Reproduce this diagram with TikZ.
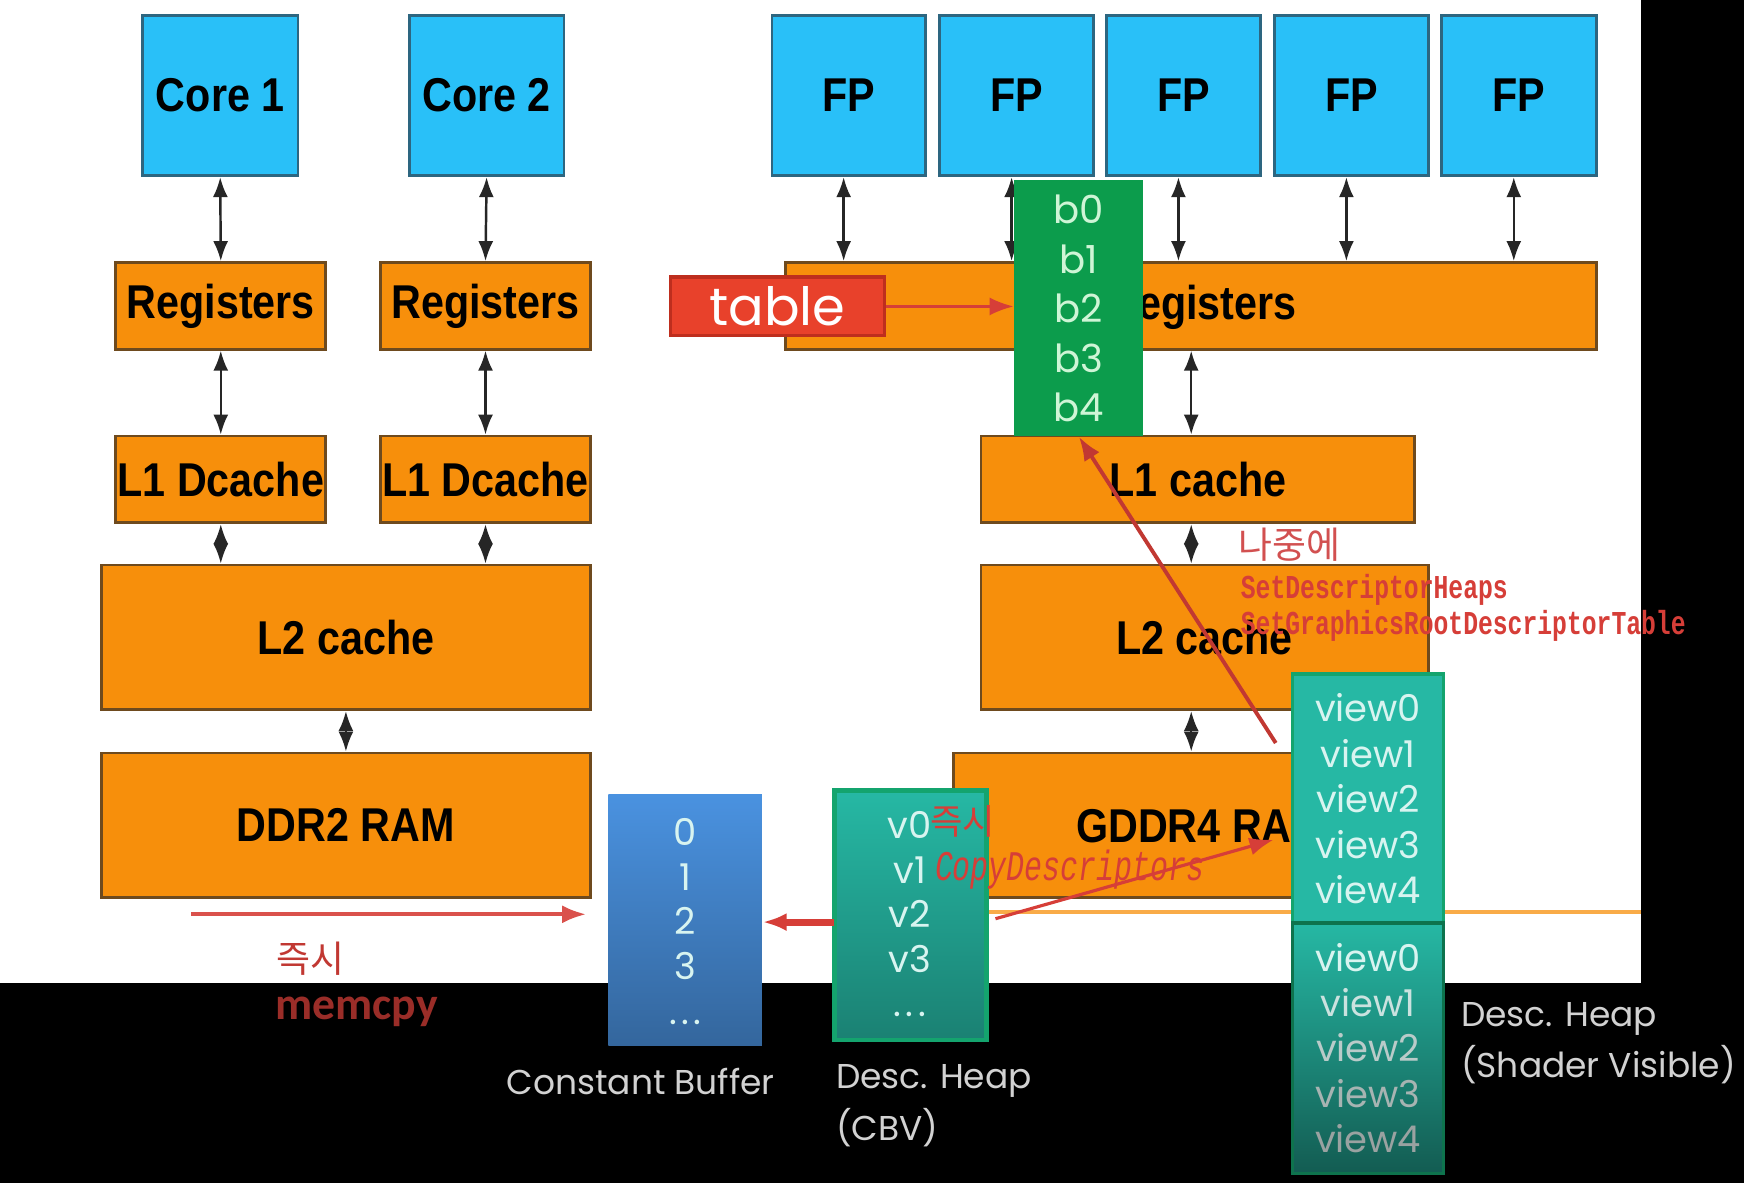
\documentclass[tikz,border=0pt]{standalone}
\usepackage{graphicx}
\usepackage{fontspec}
\setmainfont{Liberation Sans}
\newfontfamily\gothic{Poppins}
\newfontfamily\kr{Noto Sans CJK KR}
\newfontfamily\monof{Liberation Mono}
\newfontfamily\carl{Carlito}
\usetikzlibrary{arrows.meta,fit}
\definecolor{cblue}{HTML}{29C0F8}
\definecolor{cbluebd}{HTML}{2D6680}
\definecolor{corange}{HTML}{F78F0B}
\definecolor{corangebd}{HTML}{6E4A1E}
\definecolor{bgreen}{HTML}{0C9C4C}
\definecolor{bgtext}{HTML}{CFF5D6}
\definecolor{cteal}{HTML}{26B8A4}
\definecolor{tealbd}{HTML}{14A46E}
\definecolor{cbuf}{HTML}{4A92E0}
\definecolor{redt}{HTML}{D63E38}
\definecolor{redk}{HTML}{D25050}
\definecolor{redbox}{HTML}{E8412B}
\definecolor{redboxbd}{HTML}{BE2E1E}
\definecolor{lgray}{HTML}{D2D2D2}
\definecolor{ltext}{HTML}{D8F4F0}
\newcommand{\bl}[1]{\scalebox{0.87}[1]{\fontsize{13.5}{14}\selectfont\bfseries #1}}
\newcommand{\mlab}[2]{\scalebox{#1}[1]{#2}}
\newcommand{\tdots}{.\hspace{0.12em}.\hspace{0.12em}.}
\tikzset{
  hw/.style={draw=corangebd, fill=corange, line width=0.8pt, inner sep=0pt},
  cpu/.style={draw=cbluebd, fill=cblue, line width=0.8pt, inner sep=0pt},
  mid/.style={label={[inner sep=0pt]center:\bl{#1}}},
  darr/.style={{Latex[length=2mm,width=1.5mm]}-{Latex[length=2mm,width=1.5mm]}, line width=0.7pt, draw=black!85},
  rarr/.style={-{Latex[length=2.4mm,width=1.8mm]}, draw=redt, line width=1pt},
  cell/.style={inner sep=0pt, anchor=base, font=\gothic\fontsize{10.5}{11}\selectfont},
  caption/.style={inner sep=0pt, text=lgray, font=\gothic\fontsize{9.8}{11}\selectfont},
  redmono/.style={inner sep=0pt, anchor=west, text=redt},
}
\begin{document}
\begin{tikzpicture}[x=0.11122mm, y=-0.11122mm]
\useasboundingbox (0,0) rectangle (1568,1064);
% background
\fill[white] (0,0) rectangle (1568,1064);
\fill[black] (1475,0) rectangle (1568,1064);
\fill[black] (0,884) rectangle (1568,1064);
\draw[corange!75, line width=1.3pt] (887,820) -- (1475,820);

% CPU side
\node[cpu, fit={(128,14) (268,158)}, mid={Core 1}] (c1) {};
\node[cpu, fit={(368,14) (507,158)}, mid={Core 2}] (c2) {};
\node[hw, fit={(104,236) (293,314)}, mid={Registers}] (r1) {};
\node[hw, fit={(342,236) (531,314)}, mid={Registers}] (r2) {};
\node[hw, fit={(104,392) (293,470)}, mid={L1 Dcache}] (d1) {};
\node[hw, fit={(342,392) (531,470)}, mid={L1 Dcache}] (d2) {};
\node[hw, fit={(91,508) (531,638)}, mid={L2 cache}] (l2l) {};
\node[hw, fit={(91,677) (531,807)}, mid={DDR2 RAM}] (ddr) {};
\draw[darr] (c1.south) -- (r1.north);
\draw[darr] (c2.south) -- (r2.north);
\draw[darr] (r1.south) -- (d1.north);
\draw[darr] (r2.south) -- (d2.north);
\draw[darr] (d1.south) -- (d1.south |- l2l.north);
\draw[darr] (d2.south) -- (d2.south |- l2l.north);
\draw[darr] (l2l.south) -- (ddr.north);

% GPU side
\node[cpu, fit={(694,14) (832,158)}, mid={FP}] (fp1) {};
\node[cpu, fit={(845,14) (983,158)}, mid={FP}] (fp2) {};
\node[cpu, fit={(995,14) (1133,158)}, mid={FP}] (fp3) {};
\node[cpu, fit={(1146,14) (1284,158)}, mid={FP}] (fp4) {};
\node[cpu, fit={(1296,14) (1435,158)}, mid={FP}] (fp5) {};
\node[hw, fit={(706,236) (1435,314)}] (rr) {};
\node[inner sep=0pt] (rrt) at (1081,276) {\bl{Registers}};
\node[hw, fit={(882,392) (1272,470)}, mid={L1 cache}] (l1r) {};
\node[hw, fit={(882,508) (1284,638)}, mid={L2 cache}] (l2r) {};
\node[hw, fit={(857,677) (1284,807)}] (gd) {};
\node[inner sep=0pt] (gdt) at (1080,743) {\bl{GDDR4 RAM}};
\foreach \f in {fp1,fp2,fp3,fp4,fp5}
  \draw[darr] ([xshift=-0.5mm]\f.south) -- ([xshift=-0.5mm]\f.south |- rr.north);
\coordinate (gx) at (1071,0);
\draw[darr] (gx |- rr.south) -- (gx |- l1r.north);
\draw[darr] (gx |- l1r.south) -- (gx |- l2r.north);
\draw[darr] (gx |- l2r.south) -- (gx |- gd.north);

% table and root parameters
\node[draw=redboxbd, fill=redbox, line width=0.9pt, inner sep=0pt, fit={(603,249) (795,302)},
      label={[inner sep=0pt, text=white, font=\gothic\fontsize{15}{15}\selectfont]center:table}] (tb) {};
\node[fill=bgreen, inner sep=0pt, fit={(912,162) (1028,392)}] (bb) {};
\foreach \t [count=\i] in {b0,b1,b2,b3,b4}
  \node[cell, text=bgtext, font=\gothic\fontsize{11}{11}\selectfont] (bt\i) at (970,{201+44.5*(\i-1)}) {\t};
\draw[rarr, line width=0.8pt] (tb.east) -- (tb.east -| bb.west);

% shader visible heap
\node[draw=tealbd, fill=cteal, line width=1pt, inner sep=0pt, fit={(1162,606) (1298,830)}] (vw) {};
\node[draw=tealbd!70!black, top color=cteal, bottom color=cteal!50!black, line width=1pt, inner sep=0pt, fit={(1162,830) (1298,1055)}] (vw2) {};
\foreach \t [count=\i] in {view0,view1,view2,view3,view4}
  \node[cell, text=ltext] (va\i) at (1230,{649+40.8*(\i-1)}) {\t};
\foreach \t/\c [count=\i] in {view0/ltext,view1/ltext!85!gray,view2/ltext!65!gray,view3/ltext!45!gray,view4/ltext!30!gray}
  \node[cell, text=\c] (vb\i) at (1230,{873+40.8*(\i-1)}) {\t};

% constant buffer
\node[top color=cbuf, bottom color=cbuf!70!black, inner sep=0pt, fit={(547,714) (685,940)}] (cb) {};
\foreach \t [count=\i] in {0,1,2,3,\tdots}
  \node[cell, text=ltext] (cbt\i) at (616,{760+40.3*(\i-1)}) {\t};

% CBV heap
\node[draw=tealbd, top color=cteal, bottom color=cteal!70!black, line width=1.4pt, inner sep=0pt, fit={(750,711) (887,935)}] (cbv) {};
\foreach \t [count=\i] in {v0,v1,v2,v3,\tdots}
  \node[cell, text=ltext] (cvt\i) at (818,{754+40*(\i-1)}) {\t};

% red annotations
\coordinate (vs) at (1147,668);
\draw[rarr, line width=1.1pt, draw=redt!90!black] (vs) -- (bb.south);
\coordinate (cvs) at (750,829);
\draw[rarr, line width=2pt, draw=redt] (cvs) -- (cvs -| cb.east);
\coordinate (cds) at (895,826);
\coordinate (cde) at (1145,755);
\draw[rarr, line width=0.9pt] (cds) -- (cde);
\coordinate (ms) at (172,822);
\coordinate (me) at (527,822);
\draw[rarr, line width=1.1pt, draw=redt!90] (ms) -- (me);

\node[inner sep=0pt, anchor=west, text=redk, font=\kr\fontsize{10.5}{11}\selectfont] (k1) at (1113,490) {나중에};
\node[redmono] (sd1) at (1115,530) {\mlab{0.74}{\monof\bfseries\fontsize{9.5}{10}\selectfont SetDescriptorHeaps}};
\node[redmono] (sd2) at (1115,563) {\mlab{0.74}{\monof\bfseries\fontsize{9.5}{10}\selectfont SetGraphicsRootDescriptorTable}};
\node[inner sep=0pt, anchor=west, text=redt, font=\kr\fontsize{10}{11}\selectfont] (k2) at (836,738) {즉시};
\node[redmono] (cdt) at (840,782) {\mlab{0.71}{\monof\itshape\fontsize{12}{12}\selectfont CopyDescriptors}};
\node[inner sep=0pt, anchor=west, text=redt!90!black, font=\kr\fontsize{10.5}{11}\selectfont] (k3) at (248,862) {즉시};
\node[inner sep=0pt, anchor=west, text=redt!72!black, font=\carl\bfseries\fontsize{13}{13}\selectfont] (mc) at (247,910) {memcpy};

% captions
\node[caption] (cap1) at (576,972) {Constant Buffer};
\node[caption, anchor=west] (cap2) at (751,972) {Desc. Heap};
\node[caption, anchor=west] (cap3) at (751,1014) {(CBV)};
\node[caption, anchor=west] (cap4) at (1313,916) {Desc. Heap};
\node[caption, anchor=west] (cap5) at (1313,957) {(Shader Visible)};
\end{tikzpicture}
\end{document}
